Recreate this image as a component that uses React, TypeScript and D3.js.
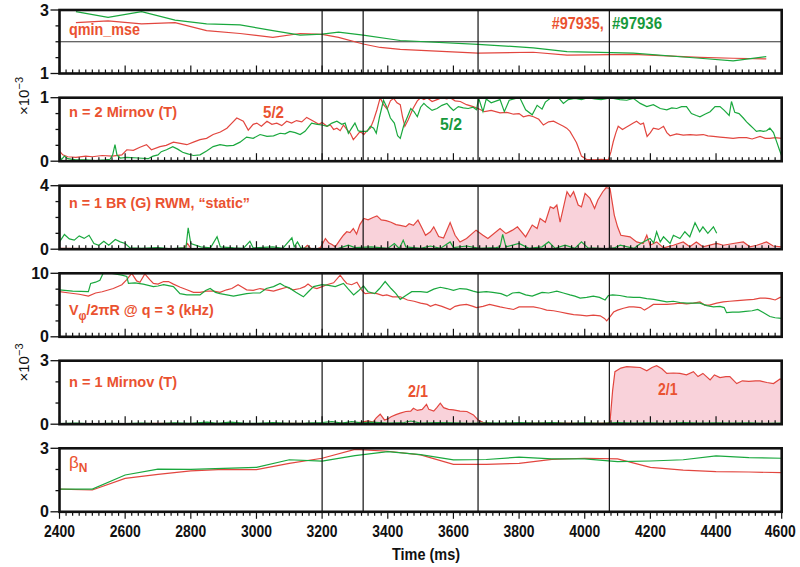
import React from "react";
import * as d3 from "d3";

type P = [number, number];

// ---------------- DATA ----------------
const timeTickValues = [2400, 2600, 2800, 3000, 3200, 3400, 3600, 3800, 4000, 4200, 4400, 4600];
const eventTimes = [3200, 3325, 3675, 4075];

// panel 1: qmin_mse
const qminRed: P[] = [
  [2450, 2.6], [2548, 2.66], [2650, 2.56], [2752, 2.6], [2848, 2.35], [2950, 2.26], [3050, 2.14],
  [3133, 2.26], [3200, 2.23], [3250, 2.14], [3325, 1.93], [3377, 1.82], [3438, 1.76], [3675, 1.64],
  [3843, 1.67], [3946, 1.58], [4148, 1.6], [4351, 1.51], [4452, 1.48], [4553, 1.46],
];
const qminGreen: P[] = [
  [2450, 2.95], [2548, 2.77], [2650, 2.95], [2752, 2.68], [2848, 2.56], [2950, 2.53], [3050, 2.35],
  [3133, 2.21], [3200, 2.24], [3250, 2.3], [3325, 2.21], [3438, 2.04], [3675, 1.92], [3843, 1.81],
  [3946, 1.69], [4148, 1.64], [4351, 1.48], [4452, 1.4], [4553, 1.53],
];

// panel 2: n = 2 Mirnov (x1e-3 T)
const n2Red: P[] = [
  [2400, 0.16], [2410, 0.1], [2425, 0.07], [2450, 0.06], [2480, 0.08], [2500, 0.07], [2530, 0.09], [2560, 0.08],
  [2590, 0.1], [2605, 0.18], [2625, 0.17], [2645, 0.22], [2665, 0.26], [2680, 0.18], [2706, 0.23], [2725, 0.25],
  [2747, 0.3], [2768, 0.28], [2788, 0.26], [2808, 0.3], [2828, 0.34], [2848, 0.36], [2868, 0.42], [2890, 0.46],
  [2910, 0.52], [2925, 0.6], [2940, 0.68], [2960, 0.63], [2975, 0.49], [2990, 0.58], [3001, 0.6], [3015, 0.55],
  [3032, 0.63], [3047, 0.58], [3062, 0.6], [3077, 0.56], [3092, 0.63], [3107, 0.6], [3122, 0.64], [3138, 0.62],
  [3153, 0.69], [3174, 0.63], [3190, 0.58], [3200, 0.61], [3215, 0.55], [3225, 0.57], [3235, 0.5], [3245, 0.52],
  [3255, 0.48], [3265, 0.57], [3275, 0.5], [3286, 0.44], [3295, 0.34], [3305, 0.4], [3316, 0.47], [3327, 0.42],
  [3337, 0.48], [3347, 0.52], [3357, 0.65], [3367, 0.81], [3377, 1.0], [3387, 0.89], [3398, 0.82], [3408, 0.95],
  [3418, 0.99], [3428, 0.92], [3438, 0.89], [3445, 0.7], [3452, 0.55], [3462, 0.65], [3477, 0.83], [3490, 0.95],
  [3500, 1.0], [3510, 0.97], [3520, 1.0], [3535, 0.94], [3550, 0.97], [3565, 1.0], [3580, 0.98], [3590, 1.0],
  [3605, 0.95], [3621, 0.94], [3640, 0.89], [3660, 0.86], [3675, 0.83], [3695, 0.78], [3715, 0.8], [3742, 0.76],
  [3762, 0.77], [3783, 0.74], [3800, 0.75], [3813, 0.7], [3830, 0.72], [3844, 0.7], [3860, 0.66], [3874, 0.57],
  [3890, 0.62], [3905, 0.63], [3920, 0.59], [3935, 0.55], [3945, 0.52], [3955, 0.47], [3965, 0.38], [3975, 0.29],
  [3983, 0.18], [3990, 0.08], [4005, 0.03], [4030, 0.02], [4050, 0.03], [4072, 0.02], [4080, 0.15], [4087, 0.31],
  [4095, 0.45], [4102, 0.55], [4115, 0.5], [4125, 0.53], [4138, 0.57], [4148, 0.6], [4158, 0.63], [4170, 0.58],
  [4179, 0.6], [4185, 0.48], [4190, 0.39], [4200, 0.45], [4209, 0.52], [4225, 0.5], [4240, 0.55], [4250, 0.45],
  [4260, 0.4], [4280, 0.43], [4300, 0.41], [4321, 0.42], [4340, 0.41], [4361, 0.42], [4375, 0.4], [4392, 0.39],
  [4412, 0.38], [4430, 0.37], [4452, 0.36], [4470, 0.37], [4493, 0.37], [4510, 0.35], [4534, 0.39], [4550, 0.36],
  [4564, 0.36], [4580, 0.37], [4600, 0.36],
];
const n2Green: P[] = [
  [2400, 0.12], [2405, 0.02], [2415, 0.08], [2425, 0.04], [2450, 0.02], [2480, 0.02], [2510, 0.01], [2540, 0.02],
  [2554, 0.03], [2562, 0.1], [2569, 0.26], [2575, 0.1], [2585, 0.05], [2605, 0.06], [2640, 0.05], [2670, 0.04],
  [2685, 0.08], [2700, 0.1], [2710, 0.15], [2726, 0.18], [2745, 0.23], [2760, 0.19], [2775, 0.14], [2788, 0.12],
  [2808, 0.09], [2828, 0.1], [2848, 0.16], [2868, 0.23], [2889, 0.26], [2910, 0.24], [2930, 0.25], [2950, 0.3],
  [2970, 0.38], [2990, 0.36], [3011, 0.42], [3032, 0.39], [3052, 0.4], [3072, 0.44], [3087, 0.43], [3102, 0.47],
  [3118, 0.45], [3133, 0.42], [3148, 0.47], [3160, 0.55], [3168, 0.6], [3185, 0.58], [3200, 0.57], [3215, 0.55],
  [3230, 0.6], [3245, 0.63], [3260, 0.58], [3270, 0.6], [3280, 0.44], [3290, 0.52], [3300, 0.6], [3310, 0.48],
  [3316, 0.47], [3337, 0.47], [3347, 0.55], [3357, 0.52], [3365, 0.44], [3375, 0.7], [3387, 0.96], [3397, 0.85],
  [3408, 0.68], [3420, 0.6], [3430, 0.4], [3438, 0.36], [3448, 0.55], [3460, 0.7], [3470, 0.83], [3480, 0.78],
  [3490, 0.7], [3500, 0.85], [3510, 0.91], [3520, 0.86], [3535, 0.8], [3550, 0.83], [3565, 0.88], [3580, 0.91],
  [3590, 0.85], [3600, 0.8], [3615, 0.86], [3630, 0.84], [3645, 0.83], [3660, 0.85], [3670, 0.81], [3677, 0.99],
  [3690, 0.78], [3700, 0.98], [3715, 0.92], [3742, 0.97], [3755, 0.78], [3770, 0.96], [3790, 0.99], [3803, 0.99],
  [3820, 0.81], [3840, 0.73], [3855, 0.88], [3870, 0.82], [3880, 0.93], [3895, 0.99], [3905, 0.99], [3920, 1.0],
  [3935, 0.91], [3950, 0.97], [3970, 0.99], [3990, 0.97], [4010, 1.0], [4030, 0.98], [4050, 0.97], [4070, 0.99],
  [4087, 0.99], [4107, 0.97], [4128, 0.96], [4148, 0.99], [4169, 0.91], [4189, 0.86], [4209, 0.89], [4230, 0.83],
  [4250, 0.81], [4265, 0.84], [4280, 0.83], [4295, 0.86], [4310, 0.86], [4325, 0.75], [4340, 0.72], [4351, 0.7],
  [4366, 0.74], [4382, 0.78], [4397, 0.86], [4412, 0.86], [4425, 0.8], [4440, 0.72], [4447, 0.94], [4457, 0.77],
  [4470, 0.75], [4483, 0.68], [4493, 0.62], [4503, 0.57], [4513, 0.52], [4523, 0.47], [4534, 0.48], [4544, 0.47],
  [4554, 0.48], [4564, 0.52], [4575, 0.45], [4585, 0.3], [4593, 0.18], [4600, 0.08],
];

// panel 3: n = 1 BR (G) RWM "static"
const rwmRed: P[] = [
  [2400, 0.05], [2500, 0.03], [2600, 0.02], [2760, 0.02], [2780, 0.08], [2790, 0.36], [2800, 0.05], [2900, 0.03],
  [3000, 0.02], [3100, 0.03], [3145, 0.05], [3155, 0.25], [3165, 0.05], [3185, 0.02], [3195, 0.1], [3210, 0.67],
  [3220, 0.4], [3230, 0.3], [3240, 0.15], [3255, 0.6], [3265, 0.88], [3275, 1.1], [3285, 1.05], [3295, 1.3],
  [3305, 0.95], [3315, 1.55], [3327, 1.94], [3340, 1.85], [3355, 2.0], [3367, 2.1], [3380, 1.85], [3395, 1.8],
  [3410, 1.7], [3425, 1.55], [3438, 1.5], [3455, 1.42], [3465, 1.6], [3478, 1.5], [3492, 1.83], [3505, 1.3],
  [3515, 0.88], [3530, 1.1], [3540, 1.41], [3555, 0.8], [3570, 0.7], [3590, 1.68], [3605, 0.88], [3620, 0.45],
  [3640, 0.67], [3669, 1.2], [3690, 0.88], [3705, 0.67], [3742, 1.3], [3760, 0.98], [3780, 1.2], [3795, 1.41],
  [3820, 0.78], [3840, 1.52], [3855, 1.3], [3864, 1.94], [3880, 1.7], [3895, 2.67], [3905, 2.57], [3915, 2.78],
  [3925, 1.7], [3946, 3.62], [3956, 3.3], [3966, 3.62], [3980, 2.78], [3990, 2.67], [4001, 3.52], [4016, 3.2],
  [4030, 2.57], [4040, 3.1], [4055, 3.62], [4065, 3.87], [4077, 3.83], [4090, 2.15], [4100, 1.41], [4110, 0.88],
  [4138, 0.78], [4158, 0.46], [4178, 0.36], [4189, 0.88], [4199, 0.25], [4219, 0.46], [4240, 0.08], [4270, 0.25],
  [4300, 0.46], [4320, 0.15], [4340, 0.46], [4360, 0.15], [4402, 0.36], [4422, 0.25], [4452, 0.36], [4483, 0.46],
  [4503, 0.15], [4524, 0.25], [4554, 0.46], [4574, 0.2], [4600, 0.15],
];
const rwmGreen: P[] = [
  [2400, 0.46], [2415, 0.93], [2430, 0.65], [2445, 0.57], [2460, 0.84], [2475, 0.68], [2490, 0.88], [2505, 0.36],
  [2520, 0.25], [2535, 0.5], [2550, 0.25], [2570, 0.61], [2585, 0.46], [2600, 0.36], [2615, 0.08], [2650, 0.05],
  [2700, 0.1], [2740, 0.03], [2770, 0.08], [2785, 0.05], [2792, 1.35], [2800, 0.36], [2830, 0.15], [2860, 0.08],
  [2880, 0.78], [2890, 0.15], [2930, 0.08], [2960, 0.05], [2980, 0.5], [2990, 0.08], [3050, 0.15], [3080, 0.05],
  [3108, 0.72], [3115, 0.15], [3125, 0.46], [3135, 0.08], [3180, 0.02], [3250, 0.05], [3280, 0.25], [3300, 0.1],
  [3350, 0.15], [3400, 0.05], [3420, 0.36], [3435, 0.05], [3447, 0.57], [3455, 0.15], [3500, 0.05], [3530, 0.2],
  [3560, 0.05], [3590, 0.46], [3600, 0.1], [3640, 0.2], [3680, 0.05], [3730, 0.1], [3742, 0.15], [3750, 0.93],
  [3760, 0.15], [3800, 0.36], [3830, 0.05], [3870, 0.15], [3890, 0.46], [3910, 0.05], [3940, 0.25], [3970, 0.05],
  [3990, 0.46], [4010, 0.08], [4060, 0.03], [4090, 0.08], [4108, 0.25], [4150, 0.05], [4170, 0.36], [4199, 0.68],
  [4210, 0.4], [4219, 1.1], [4230, 0.46], [4240, 0.78], [4260, 0.36], [4270, 0.88], [4290, 0.67], [4305, 1.1],
  [4320, 0.78], [4336, 1.66], [4350, 1.1], [4360, 1.41], [4375, 1.0], [4392, 1.41], [4402, 1.0],
];

// panel 4: V_phi / 2 pi R @ q = 3 (kHz)
const vphiRed: P[] = [
  [2400, 7.1], [2430, 6.9], [2460, 6.7], [2488, 6.4], [2510, 6.9], [2530, 7.1], [2564, 7.6], [2590, 8.2],
  [2605, 9.0], [2620, 10.0], [2635, 8.8], [2645, 8.6], [2660, 9.9], [2675, 9.0], [2686, 8.4], [2700, 8.3],
  [2717, 8.7], [2732, 8.7], [2747, 8.3], [2768, 7.8], [2788, 7.4], [2808, 7.0], [2828, 7.0], [2848, 7.2],
  [2869, 7.2], [2889, 7.0], [2909, 7.4], [2925, 7.6], [2944, 8.2], [2957, 7.8], [2970, 7.4], [2990, 7.3],
  [3011, 7.6], [3030, 7.4], [3052, 7.2], [3072, 7.5], [3092, 7.8], [3112, 7.4], [3133, 7.6], [3147, 7.9],
  [3157, 8.3], [3170, 7.8], [3184, 7.6], [3200, 7.9], [3214, 8.2], [3235, 8.5], [3255, 9.7], [3265, 9.0],
  [3275, 8.4], [3290, 8.2], [3306, 8.6], [3320, 7.4], [3331, 6.8], [3350, 6.9], [3367, 6.8], [3385, 6.5],
  [3397, 6.6], [3415, 6.3], [3438, 6.3], [3460, 5.8], [3480, 5.6], [3500, 5.3], [3520, 5.1], [3530, 4.8],
  [3545, 5.1], [3565, 4.8], [3590, 4.3], [3605, 4.8], [3620, 5.0], [3640, 5.1], [3660, 4.8], [3670, 4.6],
  [3690, 4.8], [3710, 5.1], [3742, 4.7], [3763, 4.5], [3783, 4.3], [3800, 4.7], [3824, 4.7], [3844, 4.7],
  [3865, 4.5], [3884, 4.2], [3905, 4.1], [3925, 3.9], [3945, 3.7], [3966, 3.5], [3986, 3.4], [4006, 3.3],
  [4026, 3.4], [4047, 3.3], [4060, 2.9], [4067, 2.5], [4078, 3.2], [4088, 3.9], [4100, 4.2], [4118, 4.5],
  [4135, 4.7], [4149, 4.7], [4170, 4.6], [4182, 4.2], [4195, 4.6], [4209, 5.1], [4230, 5.1], [4250, 5.1],
  [4270, 5.2], [4290, 5.3], [4310, 5.2], [4331, 5.3], [4351, 5.5], [4365, 5.0], [4380, 5.0], [4402, 5.3],
  [4422, 5.5], [4442, 5.6], [4465, 5.7], [4493, 5.8], [4515, 5.9], [4534, 6.1], [4550, 6.1], [4564, 6.0],
  [4580, 5.8], [4595, 6.2], [4600, 6.2],
];
const vphiGreen: P[] = [
  [2400, 7.4], [2440, 7.2], [2488, 7.1], [2495, 8.4], [2510, 8.6], [2523, 8.9], [2533, 10.0], [2560, 10.0],
  [2590, 9.7], [2605, 9.5], [2610, 8.4], [2630, 8.5], [2655, 8.3], [2686, 7.9], [2700, 8.0], [2717, 8.2],
  [2747, 7.9], [2767, 6.8], [2788, 6.6], [2808, 6.6], [2828, 6.6], [2845, 7.3], [2859, 7.6], [2875, 7.0],
  [2889, 6.8], [2910, 6.6], [2930, 6.4], [2950, 6.6], [2970, 6.8], [2990, 6.9], [3011, 6.9], [3030, 7.6],
  [3052, 7.9], [3072, 8.4], [3085, 8.0], [3100, 7.7], [3120, 7.0], [3143, 6.3], [3158, 7.1], [3174, 7.9],
  [3200, 8.2], [3220, 8.1], [3240, 7.9], [3265, 8.4], [3280, 7.5], [3296, 6.6], [3310, 7.2], [3326, 8.0],
  [3340, 7.1], [3360, 6.8], [3375, 7.6], [3392, 8.7], [3410, 7.6], [3425, 6.8], [3438, 5.9], [3455, 6.5],
  [3473, 7.1], [3500, 7.1], [3520, 7.0], [3540, 7.5], [3560, 7.8], [3580, 7.6], [3600, 7.3], [3620, 7.6],
  [3640, 7.5], [3660, 7.2], [3675, 7.0], [3700, 7.1], [3720, 7.0], [3745, 6.8], [3763, 6.4], [3780, 6.9],
  [3800, 7.0], [3820, 6.6], [3840, 6.4], [3860, 6.8], [3870, 7.0], [3890, 6.9], [3915, 7.2], [3935, 6.9],
  [3955, 6.6], [3970, 6.4], [3986, 6.1], [4006, 6.2], [4026, 6.4], [4045, 6.2], [4062, 5.8], [4072, 6.5],
  [4085, 6.6], [4107, 6.5], [4128, 6.3], [4148, 6.2], [4168, 6.2], [4189, 6.0], [4210, 5.9], [4230, 5.7],
  [4250, 5.5], [4270, 5.6], [4290, 5.4], [4311, 5.3], [4331, 5.3], [4351, 5.3], [4372, 4.9], [4392, 4.7],
  [4412, 4.8], [4425, 4.6], [4432, 3.8], [4450, 3.9], [4470, 3.9], [4490, 4.0], [4510, 4.1], [4527, 4.3],
  [4545, 3.8], [4564, 3.2], [4580, 3.0], [4600, 2.9],
];

// panel 5: n = 1 Mirnov (x1e-3 T)
const n1Red: P[] = [
  [2400, 0.02], [2500, 0.03], [2600, 0.02], [2700, 0.04], [2800, 0.02], [2900, 0.03], [3000, 0.02], [3100, 0.04],
  [3200, 0.03], [3300, 0.05], [3320, 0.1], [3340, 0.16], [3355, 0.1], [3365, 0.3], [3377, 0.47], [3390, 0.2],
  [3400, 0.25], [3410, 0.35], [3425, 0.45], [3438, 0.52], [3455, 0.6], [3470, 0.62], [3478, 0.75], [3490, 0.65],
  [3505, 0.7], [3518, 0.94], [3525, 0.7], [3540, 0.62], [3550, 0.8], [3560, 0.99], [3570, 0.78], [3585, 0.7],
  [3600, 0.68], [3620, 0.62], [3641, 0.6], [3661, 0.44], [3675, 0.2], [3690, 0.09], [3720, 0.03], [3800, 0.04],
  [3900, 0.06], [4000, 0.04], [4070, 0.05], [4077, 0.12], [4085, 1.6], [4092, 2.48], [4110, 2.65], [4128, 2.72],
  [4150, 2.7], [4169, 2.68], [4189, 2.52], [4205, 2.68], [4219, 2.76], [4235, 2.62], [4250, 2.4], [4270, 2.42],
  [4290, 2.4], [4310, 2.33], [4331, 2.48], [4345, 2.25], [4360, 2.4], [4382, 2.09], [4395, 2.33], [4412, 2.2],
  [4430, 2.25], [4442, 2.25], [4463, 1.92], [4480, 2.05], [4500, 2.02], [4520, 2.05], [4534, 2.05], [4555, 1.97],
  [4575, 1.92], [4595, 2.14], [4600, 2.1],
];
const n1Green: P[] = [
  [2400, 0.03], [2450, 0.05], [2500, 0.02], [2550, 0.04], [2600, 0.03], [2650, 0.05], [2700, 0.03], [2750, 0.06],
  [2800, 0.04], [2850, 0.1], [2880, 0.04], [2920, 0.1], [2960, 0.05], [3000, 0.04], [3050, 0.08], [3100, 0.04],
  [3150, 0.05], [3200, 0.08], [3230, 0.12], [3260, 0.05], [3290, 0.12], [3320, 0.06], [3350, 0.1], [3400, 0.05],
  [3450, 0.08], [3470, 0.15], [3500, 0.05], [3550, 0.08], [3600, 0.06], [3650, 0.04], [3700, 0.06], [3750, 0.05],
  [3800, 0.07], [3850, 0.05], [3900, 0.07], [3950, 0.04], [4000, 0.06], [4050, 0.04], [4100, 0.08], [4150, 0.05],
  [4200, 0.06], [4250, 0.04], [4300, 0.07], [4350, 0.05], [4400, 0.06], [4450, 0.05], [4500, 0.06], [4550, 0.04],
  [4600, 0.05],
];

// panel 6: beta_N
const betaRed: P[] = [
  [2400, 1.07], [2500, 1.03], [2600, 1.58], [2700, 1.77], [2800, 1.93], [2900, 2.0], [3000, 1.99], [3100, 2.29],
  [3200, 2.53], [3300, 2.95], [3400, 2.86], [3500, 2.69], [3600, 2.24], [3700, 2.24], [3800, 2.29], [3900, 2.48],
  [4000, 2.53], [4100, 2.5], [4200, 2.1], [4300, 1.97], [4400, 1.9], [4500, 1.88], [4600, 1.85],
];
const betaGreen: P[] = [
  [2400, 1.07], [2500, 1.07], [2600, 1.74], [2700, 2.02], [2800, 2.0], [2900, 2.05], [3000, 2.1], [3100, 2.46],
  [3200, 2.39], [3300, 2.65], [3400, 2.84], [3500, 2.7], [3600, 2.45], [3700, 2.47], [3800, 2.58], [3900, 2.5],
  [4000, 2.5], [4100, 2.37], [4200, 2.4], [4300, 2.46], [4400, 2.64], [4500, 2.56], [4600, 2.53],
];

// ---------------- STYLE ----------------
const FONT = "'Liberation Sans', Arial, Helvetica, sans-serif";
const RED_LINE = "#e2463f";
const GREEN_LINE = "#1aa83e";
const RED_TEXT = "#ea5230";
const GREEN_TEXT = "#17993c";
const PINK = "#f9d2da";

const X0 = 59.5;
const X1 = 781.7;
const PH = 63.5;
const tops = [10, 97.7, 185.7, 273.3, 360.7, 448.3];

const x = d3.scaleLinear().domain([2400, 4600]).range([X0, X1]);

type PanelDef = {
  domain: [number, number];
  step: number;
  labels: number[];
  red: P[];
  green: P[];
  fill: boolean;
  hline?: number;
};

const panels: PanelDef[] = [
  { domain: [1, 3], step: 0.5, labels: [1, 3], red: qminRed, green: qminGreen, fill: false, hline: 2 },
  { domain: [0, 1], step: 0.25, labels: [0, 1], red: n2Red, green: n2Green, fill: false },
  { domain: [0, 4], step: 1, labels: [0, 4], red: rwmRed, green: rwmGreen, fill: true },
  { domain: [0, 10], step: 2.5, labels: [0, 10], red: vphiRed, green: vphiGreen, fill: false },
  { domain: [0, 3], step: 1, labels: [0, 3], red: n1Red, green: n1Green, fill: true },
  { domain: [0, 3], step: 1, labels: [0, 3], red: betaRed, green: betaGreen, fill: false },
];

const minorTicks = d3.range(2400, 4601, 20);

function Panel({ def, idx }: { def: PanelDef; idx: number }) {
  const top = tops[idx];
  const bottom = top + PH;
  const y = d3.scaleLinear().domain(def.domain).range([bottom, top]);
  const line = d3.line<P>().x((d) => x(d[0])).y((d) => y(d[1]));
  const area = d3.area<P>().x((d) => x(d[0])).y0(y(def.domain[0])).y1((d) => y(d[1]));
  const clipId = `clip${idx}`;
  const isLast = idx === panels.length - 1;
  const yTicks = d3.range(def.domain[0], def.domain[1] + 1e-9, def.step);
  return (
    <g>
      <defs>
        <clipPath id={clipId}>
          <rect x={X0} y={top} width={X1 - X0} height={PH} />
        </clipPath>
      </defs>
      <g clipPath={`url(#${clipId})`}>
        {def.fill && <path d={area(def.red) || ""} fill={PINK} stroke="none" />}
        {def.hline !== undefined && (
          <line x1={X0} x2={X1} y1={y(def.hline)} y2={y(def.hline)} stroke="#333" strokeWidth={1} />
        )}
        <path d={line(def.red) || ""} fill="none" stroke={RED_LINE} strokeWidth={1.2} />
        <path d={line(def.green) || ""} fill="none" stroke={GREEN_LINE} strokeWidth={1.2} />
      </g>
      {eventTimes.map((t) => (
        <line key={t} x1={x(t)} x2={x(t)} y1={top} y2={bottom} stroke="#111" strokeWidth={1.2} />
      ))}
      {/* bottom ticks */}
      {minorTicks.map((t) => {
        const major = t % 200 === 0;
        const len = isLast ? (major ? 7 : 4) : major ? 8 : 4;
        return isLast ? (
          <line key={t} x1={x(t)} x2={x(t)} y1={bottom} y2={bottom + len} stroke="#111" strokeWidth={1.2} />
        ) : (
          <line key={t} x1={x(t)} x2={x(t)} y1={bottom} y2={bottom - len} stroke="#111" strokeWidth={1.2} />
        );
      })}
      {/* left ticks */}
      {yTicks.map((v) => {
        const lab = def.labels.includes(v);
        return (
          <line key={v} x1={X0 - (lab ? 9 : 4)} x2={X0} y1={y(v)} y2={y(v)} stroke="#111" strokeWidth={1.3} />
        );
      })}
      {def.labels.map((v) => (
        <text
          key={v}
          x={49}
          y={y(v) + 5.5}
          textAnchor="end"
          fontSize={16}
          fontWeight="bold"
          fill="#111"
          fontFamily={FONT}
        >
          {v}
        </text>
      ))}
      <rect x={X0} y={top} width={X1 - X0} height={PH} fill="none" stroke="#111" strokeWidth={2.6} />
      {isLast &&
        timeTickValues.map((t) => (
          <g key={t} transform={`translate(${x(t) - (t === 4600 ? 1.5 : 0)},536.7) scale(0.82,1)`}>
            <text x={0} y={0} textAnchor="middle" fontSize={17} fontWeight="bold" fill="#111" fontFamily={FONT}>
              {t}
            </text>
          </g>
        ))}
    </g>
  );
}

function Lbl(props: {
  x: number;
  y: number;
  w: number;
  size?: number;
  fill?: string;
  children: React.ReactNode;
}) {
  return (
    <text
      x={props.x}
      y={props.y}
      fontSize={props.size ?? 15.4}
      fontWeight="bold"
      fill={props.fill ?? RED_TEXT}
      fontFamily={FONT}
      textLength={props.w}
      lengthAdjust="spacingAndGlyphs"
    >
      {props.children}
    </text>
  );
}

function Exp({ cy }: { cy: number }) {
  return (
    <text
      transform={`translate(29,${cy}) rotate(-90)`}
      textAnchor="middle"
      fontSize={15}
      fill="#111"
      fontFamily={FONT}
    >
      ×10
      <tspan dy={-6} fontSize={11}>
        −3
      </tspan>
    </text>
  );
}

export default function App() {
  return (
    <svg
      width={800}
      height={567}
      viewBox="0 0 800 567"
      style={{ position: "absolute", left: 0, top: 0, background: "#fff" }}
    >
      <rect x={0} y={0} width={800} height={567} fill="#fff" />
      {panels.map((p, i) => (
        <Panel key={i} def={p} idx={i} />
      ))}

      {/* panel labels */}
      <Lbl x={69} y={35} w={71} size={16}>qmin_mse</Lbl>
      <Lbl x={551.7} y={29} w={52} size={16}>#97935,</Lbl>
      <Lbl x={612} y={29} w={50} size={16} fill={GREEN_TEXT}>#97936</Lbl>

      <Lbl x={69} y={116.7} w={108}>n = 2 Mirnov (T)</Lbl>
      <Lbl x={263} y={118.3} w={21} size={16}>5/2</Lbl>
      <Lbl x={440} y={130} w={22} size={16} fill={GREEN_TEXT}>5/2</Lbl>

      <Lbl x={69} y={207.7} w={181}>n = 1 BR (G) RWM, “static”</Lbl>

      <g transform="translate(69,315) scale(0.93,1)">
        <text x={0} y={0} fontSize={15.4} fontWeight="bold" fill={RED_TEXT} fontFamily={FONT}>
          V
          <tspan dy={5} fontSize={12}>
            φ
          </tspan>
          <tspan dy={-5}>/2πR @ q = 3 (kHz)</tspan>
        </text>
      </g>

      <Lbl x={69} y={386.7} w={108}>n = 1 Mirnov (T)</Lbl>
      <Lbl x={408} y={397} w={20} size={16}>2/1</Lbl>
      <Lbl x={658} y={395} w={19.5} size={16}>2/1</Lbl>

      <text x={69} y={468} fontSize={17} fill={RED_TEXT} fontFamily={FONT}>
        β
        <tspan dy={4} fontSize={12} fontWeight="bold">
          N
        </tspan>
      </text>

      <Exp cy={96} />
      <Exp cy={362.5} />

      <text
        x={426}
        y={560}
        textAnchor="middle"
        fontSize={16}
        fontWeight="bold"
        fill="#111"
        fontFamily={FONT}
        textLength={68}
        lengthAdjust="spacingAndGlyphs"
      >
        Time (ms)
      </text>
    </svg>
  );
}
